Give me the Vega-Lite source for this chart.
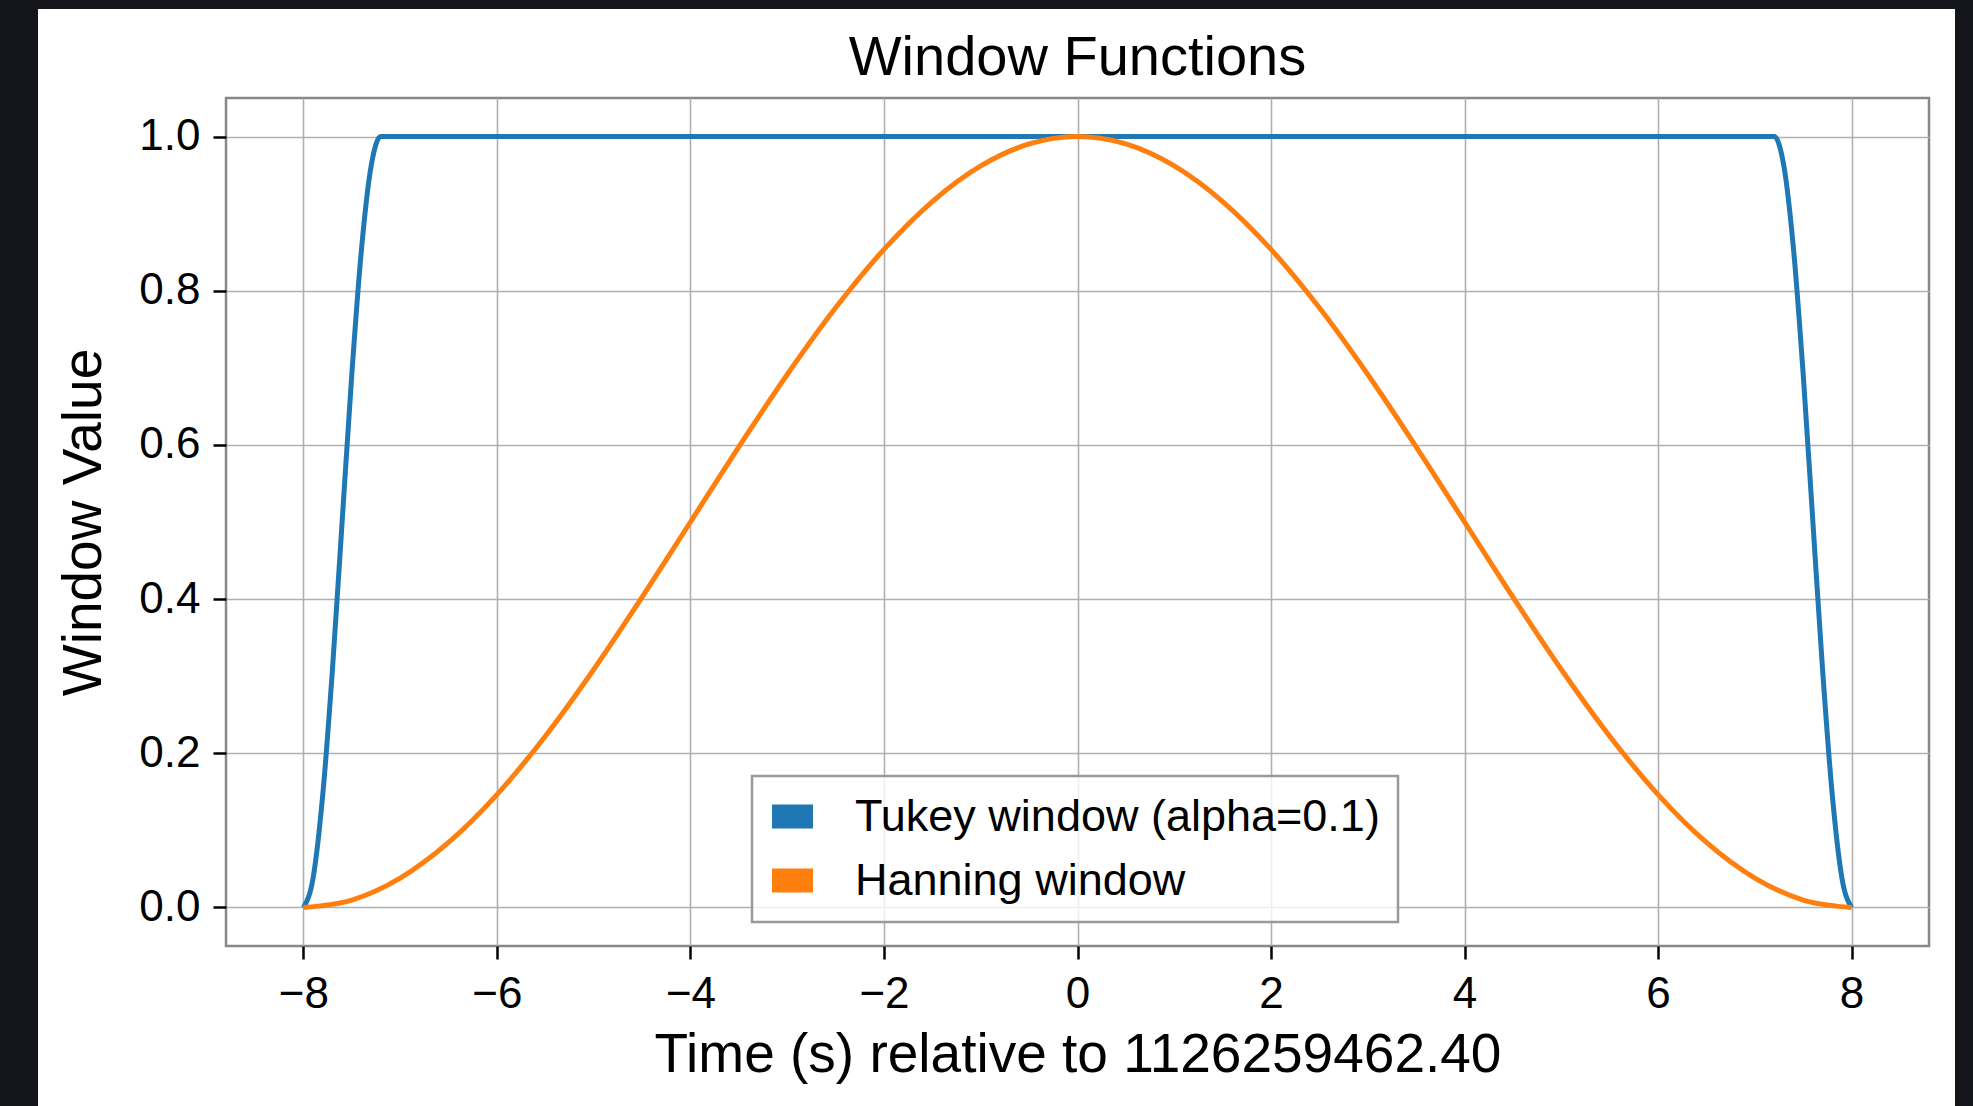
{
  "$schema": "https://vega.github.io/schema/vega-lite/v6.json",
  "width": 1703,
  "height": 848,
  "autosize": {"type": "none"},
  "padding": {"left": 226, "top": 98, "right": 44, "bottom": 160},
  "background": "#ffffff",
  "title": {"text": "Window Functions", "fontSize": 56, "font": "Liberation Sans", "fontWeight": "normal", "color": "#000000", "anchor": "middle", "frame": "group", "baseline": "alphabetic", "offset": -131},
  "datasets": {
    "curves": [
      {"t": -8, "w": 0, "series": "Tukey window (alpha=0.1)"},
      {"t": -7.9, "w": 0.0381, "series": "Tukey window (alpha=0.1)"},
      {"t": -7.8, "w": 0.1464, "series": "Tukey window (alpha=0.1)"},
      {"t": -7.7, "w": 0.3087, "series": "Tukey window (alpha=0.1)"},
      {"t": -7.6, "w": 0.5, "series": "Tukey window (alpha=0.1)"},
      {"t": -7.5, "w": 0.6913, "series": "Tukey window (alpha=0.1)"},
      {"t": -7.4, "w": 0.8536, "series": "Tukey window (alpha=0.1)"},
      {"t": -7.3, "w": 0.9619, "series": "Tukey window (alpha=0.1)"},
      {"t": -7.2, "w": 1, "series": "Tukey window (alpha=0.1)"},
      {"t": 7.2, "w": 1, "series": "Tukey window (alpha=0.1)"},
      {"t": 7.3, "w": 0.9619, "series": "Tukey window (alpha=0.1)"},
      {"t": 7.4, "w": 0.8536, "series": "Tukey window (alpha=0.1)"},
      {"t": 7.5, "w": 0.6913, "series": "Tukey window (alpha=0.1)"},
      {"t": 7.6, "w": 0.5, "series": "Tukey window (alpha=0.1)"},
      {"t": 7.7, "w": 0.3087, "series": "Tukey window (alpha=0.1)"},
      {"t": 7.8, "w": 0.1464, "series": "Tukey window (alpha=0.1)"},
      {"t": 7.9, "w": 0.0381, "series": "Tukey window (alpha=0.1)"},
      {"t": 8, "w": 0, "series": "Tukey window (alpha=0.1)"},
      {"t": -8, "w": 0, "series": "Hanning window"},
      {"t": -7.5, "w": 0.0096, "series": "Hanning window"},
      {"t": -7, "w": 0.0381, "series": "Hanning window"},
      {"t": -6.5, "w": 0.0843, "series": "Hanning window"},
      {"t": -6, "w": 0.1464, "series": "Hanning window"},
      {"t": -5.5, "w": 0.2222, "series": "Hanning window"},
      {"t": -5, "w": 0.3087, "series": "Hanning window"},
      {"t": -4.5, "w": 0.4025, "series": "Hanning window"},
      {"t": -4, "w": 0.5, "series": "Hanning window"},
      {"t": -3.5, "w": 0.5975, "series": "Hanning window"},
      {"t": -3, "w": 0.6913, "series": "Hanning window"},
      {"t": -2.5, "w": 0.7778, "series": "Hanning window"},
      {"t": -2, "w": 0.8536, "series": "Hanning window"},
      {"t": -1.5, "w": 0.9157, "series": "Hanning window"},
      {"t": -1, "w": 0.9619, "series": "Hanning window"},
      {"t": -0.5, "w": 0.9904, "series": "Hanning window"},
      {"t": 0, "w": 1, "series": "Hanning window"},
      {"t": 0.5, "w": 0.9904, "series": "Hanning window"},
      {"t": 1, "w": 0.9619, "series": "Hanning window"},
      {"t": 1.5, "w": 0.9157, "series": "Hanning window"},
      {"t": 2, "w": 0.8536, "series": "Hanning window"},
      {"t": 2.5, "w": 0.7778, "series": "Hanning window"},
      {"t": 3, "w": 0.6913, "series": "Hanning window"},
      {"t": 3.5, "w": 0.5975, "series": "Hanning window"},
      {"t": 4, "w": 0.5, "series": "Hanning window"},
      {"t": 4.5, "w": 0.4025, "series": "Hanning window"},
      {"t": 5, "w": 0.3087, "series": "Hanning window"},
      {"t": 5.5, "w": 0.2222, "series": "Hanning window"},
      {"t": 6, "w": 0.1464, "series": "Hanning window"},
      {"t": 6.5, "w": 0.0843, "series": "Hanning window"},
      {"t": 7, "w": 0.0381, "series": "Hanning window"},
      {"t": 7.5, "w": 0.0096, "series": "Hanning window"},
      {"t": 8, "w": 0, "series": "Hanning window"}
    ]
  },
  "layer": [
    {
      "data": {"name": "curves"},
      "mark": {"type": "line", "strokeWidth": 5, "interpolate": "monotone"},
      "encoding": {
        "x": {"field": "t", "type": "quantitative",
              "scale": {"domain": [-8.8, 8.8], "nice": false, "zero": false},
              "axis": {"title": "Time (s) relative to 1126259462.40", "values": [-8, -6, -4, -2, 0, 2, 4, 6, 8], "format": "d", "labelPadding": 13, "titlePadding": 12, "labelFlush": false}},
        "y": {"field": "w", "type": "quantitative",
              "scale": {"domain": [-0.05, 1.05], "nice": false, "zero": false},
              "axis": {"title": "Window Value", "values": [0, 0.2, 0.4, 0.6, 0.8, 1.0], "format": ".1f", "labelPadding": 13, "titlePadding": 26}},
        "color": {"field": "series", "type": "nominal",
                  "scale": {"domain": ["Tukey window (alpha=0.1)", "Hanning window"], "range": ["#1f77b4", "#ff7f0e"]},
                  "legend": {"title": null, "orient": "none", "legendX": 526, "legendY": 678,
                             "symbolType": "M-1,-0.585H1V0.585H-1Z", "symbolSize": 1681,
                             "labelFont": "Liberation Sans", "labelFontSize": 45, "labelColor": "#000000",
                             "labelOffset": 40, "rowPadding": 18, "padding": 18,
                             "fillColor": "rgba(255,255,255,0.8)", "strokeColor": "#999999", "cornerRadius": 0,
                             "labelLimit": 1000,
                             "encode": {"symbols": {"update": {"fill": {"scale": "color", "field": "value"}, "strokeWidth": {"value": 0}, "opacity": {"value": 1}}},
                                        "legend": {"update": {"strokeWidth": {"value": 2.5}}}}},
                  "sort": ["Tukey window (alpha=0.1)", "Hanning window"]}
      }
    },
    {
      "data": {"values": [{}]},
      "mark": {"type": "rect", "fill": "#13151a", "clip": false},
      "encoding": {
        "x": {"datum": -11.1357, "type": "quantitative", "scale": {"domain": [-8.8, 8.8], "nice": false, "zero": false}},
        "x2": {"datum": -10.7429},
        "y": {"datum": -0.2575, "type": "quantitative", "scale": {"domain": [-0.05, 1.05], "nice": false, "zero": false}},
        "y2": {"datum": 1.1771}
      }
    },
    {
      "data": {"values": [{}]},
      "mark": {"type": "rect", "fill": "#13151a", "clip": false},
      "encoding": {
        "x": {"datum": 9.0688, "type": "quantitative"},
        "x2": {"datum": 9.2548},
        "y": {"datum": -0.2575, "type": "quantitative"},
        "y2": {"datum": 1.1771}
      }
    },
    {
      "data": {"values": [{}]},
      "mark": {"type": "rect", "fill": "#13151a", "clip": false},
      "encoding": {
        "x": {"datum": -11.1357, "type": "quantitative"},
        "x2": {"datum": 9.2548},
        "y": {"datum": 1.1654, "type": "quantitative"},
        "y2": {"datum": 1.1771}
      }
    }
  ],
  "config": {
    "view": {"stroke": "#888888", "strokeWidth": 2.5},
    "axis": {"domain": false, "grid": true, "gridColor": "#b0b0b0", "gridWidth": 1.6, "ticks": true, "tickColor": "#000000", "tickWidth": 2.5, "tickSize": 13,
             "labelFont": "Liberation Sans", "labelFontSize": 44, "labelColor": "#000000",
             "titleFont": "Liberation Sans", "titleFontSize": 55, "titleFontWeight": "normal", "titleColor": "#000000"}
  }
}
